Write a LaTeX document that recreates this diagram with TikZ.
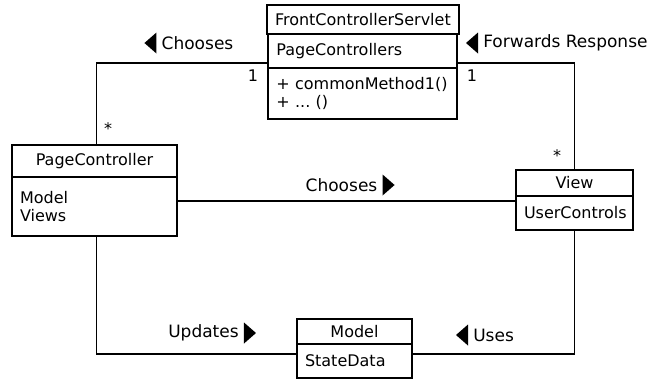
\documentclass[tikz,border=0pt]{standalone}
\usepackage{fontspec}
\setmainfont{DejaVu Sans}
\usetikzlibrary{calc,positioning}
\newdimen\pxu \pxu=0.75pt
\tikzset{
	umlbox/.style={draw, line width=1.4pt, outer sep=0pt, inner xsep=8\pxu, inner ysep=2pt, font=\fontsize{12}{14}\selectfont},
	umlhead/.style={umlbox, align=center},
	umlpart/.style={umlbox, align=left},
	conn/.style={line width=1.4pt},
	lbl/.style={inner sep=0pt, font=\fontsize{12.75}{15}\selectfont},
	mult/.style={inner sep=0pt, font=\fontsize{12}{14}\selectfont}
}
\def\dirleft(#1){\fill ($(#1.west)+(-5,-10.5)$) -- ++(0,21) -- ++(-12,-10.5) -- cycle;}
\def\dirright(#1){\fill ($(#1.east)+(5,-10.5)$) -- ++(0,21) -- ++(12,-10.5) -- cycle;}

\begin{document}
\begin{tikzpicture}[x=0.75pt, y=-0.75pt]
		%%%%% START %%%%%
		\useasboundingbox (0, 0) rectangle (648, 380);
		
		\node[umlhead, minimum width=189\pxu, minimum height=29\pxu, anchor=north west] (fcsHead) at (267, 5) {FrontControllerServlet};
		\node[umlpart, text width=173\pxu, minimum height=34\pxu, below=0pt of fcsHead] (fcsAttr) {PageControllers};
		\node[umlpart, text width=173\pxu, minimum height=51\pxu, below=0pt of fcsAttr] (fcsOps) {+ commonMethod1()\\+ ...\ ()};
		
		\node[umlhead, minimum width=165\pxu, minimum height=32\pxu, anchor=north west] (pcHead) at (12, 145) {PageController};
		\node[umlpart, text width=149\pxu, minimum height=59\pxu, below=0pt of pcHead] (pcAttr) {Model\\Views};
		
		\node[umlhead, minimum width=117\pxu, minimum height=26\pxu, anchor=north west] (viewHead) at (516, 170) {View};
		\node[umlpart, text width=101\pxu, minimum height=34\pxu, below=0pt of viewHead] (viewAttr) {UserControls};
		
		\node[umlhead, minimum width=115\pxu, minimum height=25\pxu, anchor=north west] (modelHead) at (297, 319) {Model};
		\node[umlpart, text width=99\pxu, minimum height=34\pxu, below=0pt of modelHead] (modelAttr) {StateData};
		
		\draw[conn] ($(pcHead.north)+(2,0)$) |- ($(fcsAttr.south west)+(0,-5)$);
		\draw[conn] (viewHead.north) |- ($(fcsAttr.south east)+(0,-5)$);
		\draw[conn] ($(pcAttr.north east)+(0,24)$) coordinate (pcRight) -- (pcRight -| viewAttr.west);
		\draw[conn] ($(pcAttr.south)+(2,0)$) |- ($(modelAttr.north west)+(0,10)$);
		\draw[conn] (viewAttr.south) |- ($(modelAttr.north east)+(0,10)$);
		
		\node[mult] (multPc) at (108, 129) {*};
		\node[mult] (multFcsL) at (253, 76) {1};
		\node[mult] (multFcsR) at (472, 76) {1};
		\node[mult] (multView) at (557, 156) {*};
		
		\node[lbl] (choosesTop) at (197.5, 43) {Chooses};
		\dirleft(choosesTop)
		\node[lbl, anchor=west] (forwards) at (483, 43) {Forwards Response};
		\dirleft(forwards)
		\node[lbl] (choosesMid) at (341.5, 185) {Chooses};
		\dirright(choosesMid)
		\node[lbl] (updates) at (203.5, 333) {Updates};
		\dirright(updates)
		\node[lbl, anchor=west] (uses) at (473, 335) {Uses};
		\dirleft(uses)
		
		%%%%% END %%%%%
\end{tikzpicture}
\end{document}
